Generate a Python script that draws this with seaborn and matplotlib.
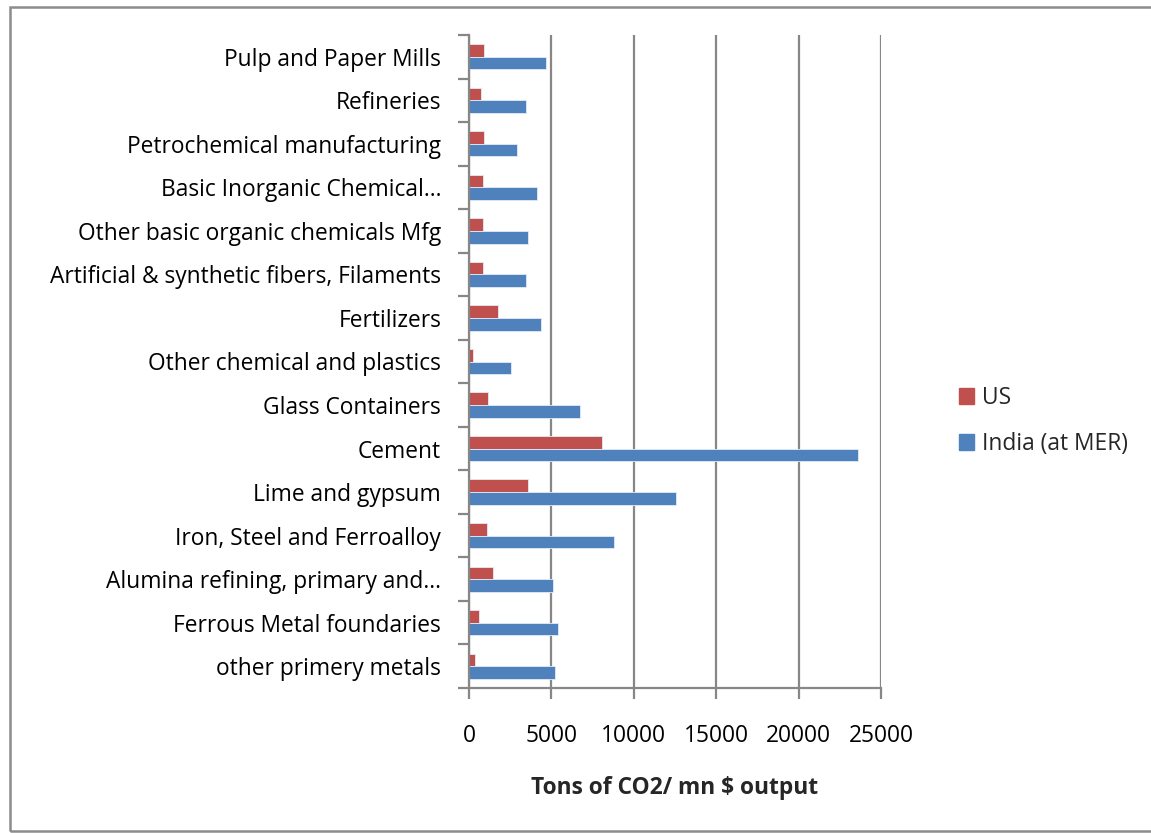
import matplotlib
matplotlib.use("Agg")
import matplotlib.pyplot as plt
import matplotlib.patches as mpatches
from matplotlib.ticker import FixedLocator, NullFormatter
import seaborn as sns
import pandas as pd
import numpy as np

# Emission intensity by industry, top to bottom as listed
industries = [
    "Pulp and Paper Mills",
    "Refineries",
    "Petrochemical manufacturing",
    "Basic Inorganic Chemical\u2026",
    "Other basic organic chemicals Mfg",
    "Artificial & synthetic fibers, Filaments",
    "Fertilizers",
    "Other chemical and plastics",
    "Glass Containers",
    "Cement",
    "Lime and gypsum",
    "Iron, Steel and Ferroalloy",
    "Alumina refining, primary and\u2026",
    "Ferrous Metal foundaries",
    "other primery metals",
]
us_values = [890, 750, 890, 870, 850, 850, 1740, 240, 1130, 8100, 3600, 1110, 1480, 630, 340]
india_values = [4650, 3470, 2890, 4140, 3600, 3470, 4340, 2570, 6760, 23600, 12570, 8790, 5100, 5430, 5240]
series_names = ["US", "India (at MER)"]
x_ticks = [0, 5000, 10000, 15000, 20000, 25000]

df = pd.DataFrame({
    "industry": industries * 2,
    "value": us_values + india_values,
    "series": [series_names[0]] * len(industries) + [series_names[1]] * len(industries),
})

sns.set_theme(style="white")
plt.rcParams["font.family"] = ["Open Sans", "DejaVu Sans"]

W, H = 1151, 833
fig = plt.figure(figsize=(W / 100, H / 100), dpi=100)
ax = fig.add_axes([469 / W, 1 - 688 / H, (881 - 469) / W, (688 - 35) / H])

palette = {"US": "#C0504D", "India (at MER)": "#4F81BD"}
sns.barplot(
    data=df, y="industry", x="value", hue="series", order=industries,
    hue_order=series_names, palette=palette, orient="h", width=0.58,
    saturation=1, ax=ax, legend=False, edgecolor="#e4ebf5", linewidth=0.6,
)

grid_col = "#878787"
ax.set_xlim(0, 25000)
ax.set_ylim(len(industries) - 0.5, -0.5)
ax.set_xticks(x_ticks)
ax.set_xticklabels([str(v) for v in x_ticks], fontsize=16.4, color="black")
ax.xaxis.grid(True, color=grid_col, linewidth=1.6)
ax.yaxis.grid(False)
ax.set_axisbelow(True)

# Category labels at centres, tick marks between categories
ax.set_yticks(np.arange(len(industries)))
ax.set_yticklabels(industries, fontsize=16.4, color="black")
ax.yaxis.set_minor_locator(FixedLocator(np.arange(-0.5, len(industries), 1.0)))
ax.yaxis.set_minor_formatter(NullFormatter())
ax.tick_params(axis="y", which="major", length=0, pad=20)
ax.tick_params(axis="y", which="minor", length=8, width=1.6, color=grid_col, direction="out", left=True)
ax.tick_params(axis="x", which="major", length=8, width=1.6, color=grid_col, direction="out", bottom=True, pad=18)

for side in ["top", "right"]:
    ax.spines[side].set_visible(False)
for side in ["left", "bottom"]:
    ax.spines[side].set_color(grid_col)
    ax.spines[side].set_linewidth(1.6)

ax.set_ylabel("")
ax.set_xlabel("Tons of CO2/ mn $ output", fontsize=16.4, fontweight="bold", labelpad=20)

handles = [mpatches.Patch(color=palette[s], label=s) for s in series_names]
fig.legend(
    handles=handles, loc="center left", bbox_to_anchor=(938 / W, 1 - 421 / H),
    frameon=False, fontsize=16.4, handlelength=0.7, handleheight=0.7,
    handletextpad=0.35, labelspacing=1.0,
)

# Outer chart frame
fig.patches.append(mpatches.Rectangle(
    (10 / W, 2 / H), 1.2, 1 - 9 / H, transform=fig.transFigure,
    fill=False, edgecolor="#8c8c8c", linewidth=1.8,
))

fig.savefig("out.png", dpi=100, facecolor="white")
